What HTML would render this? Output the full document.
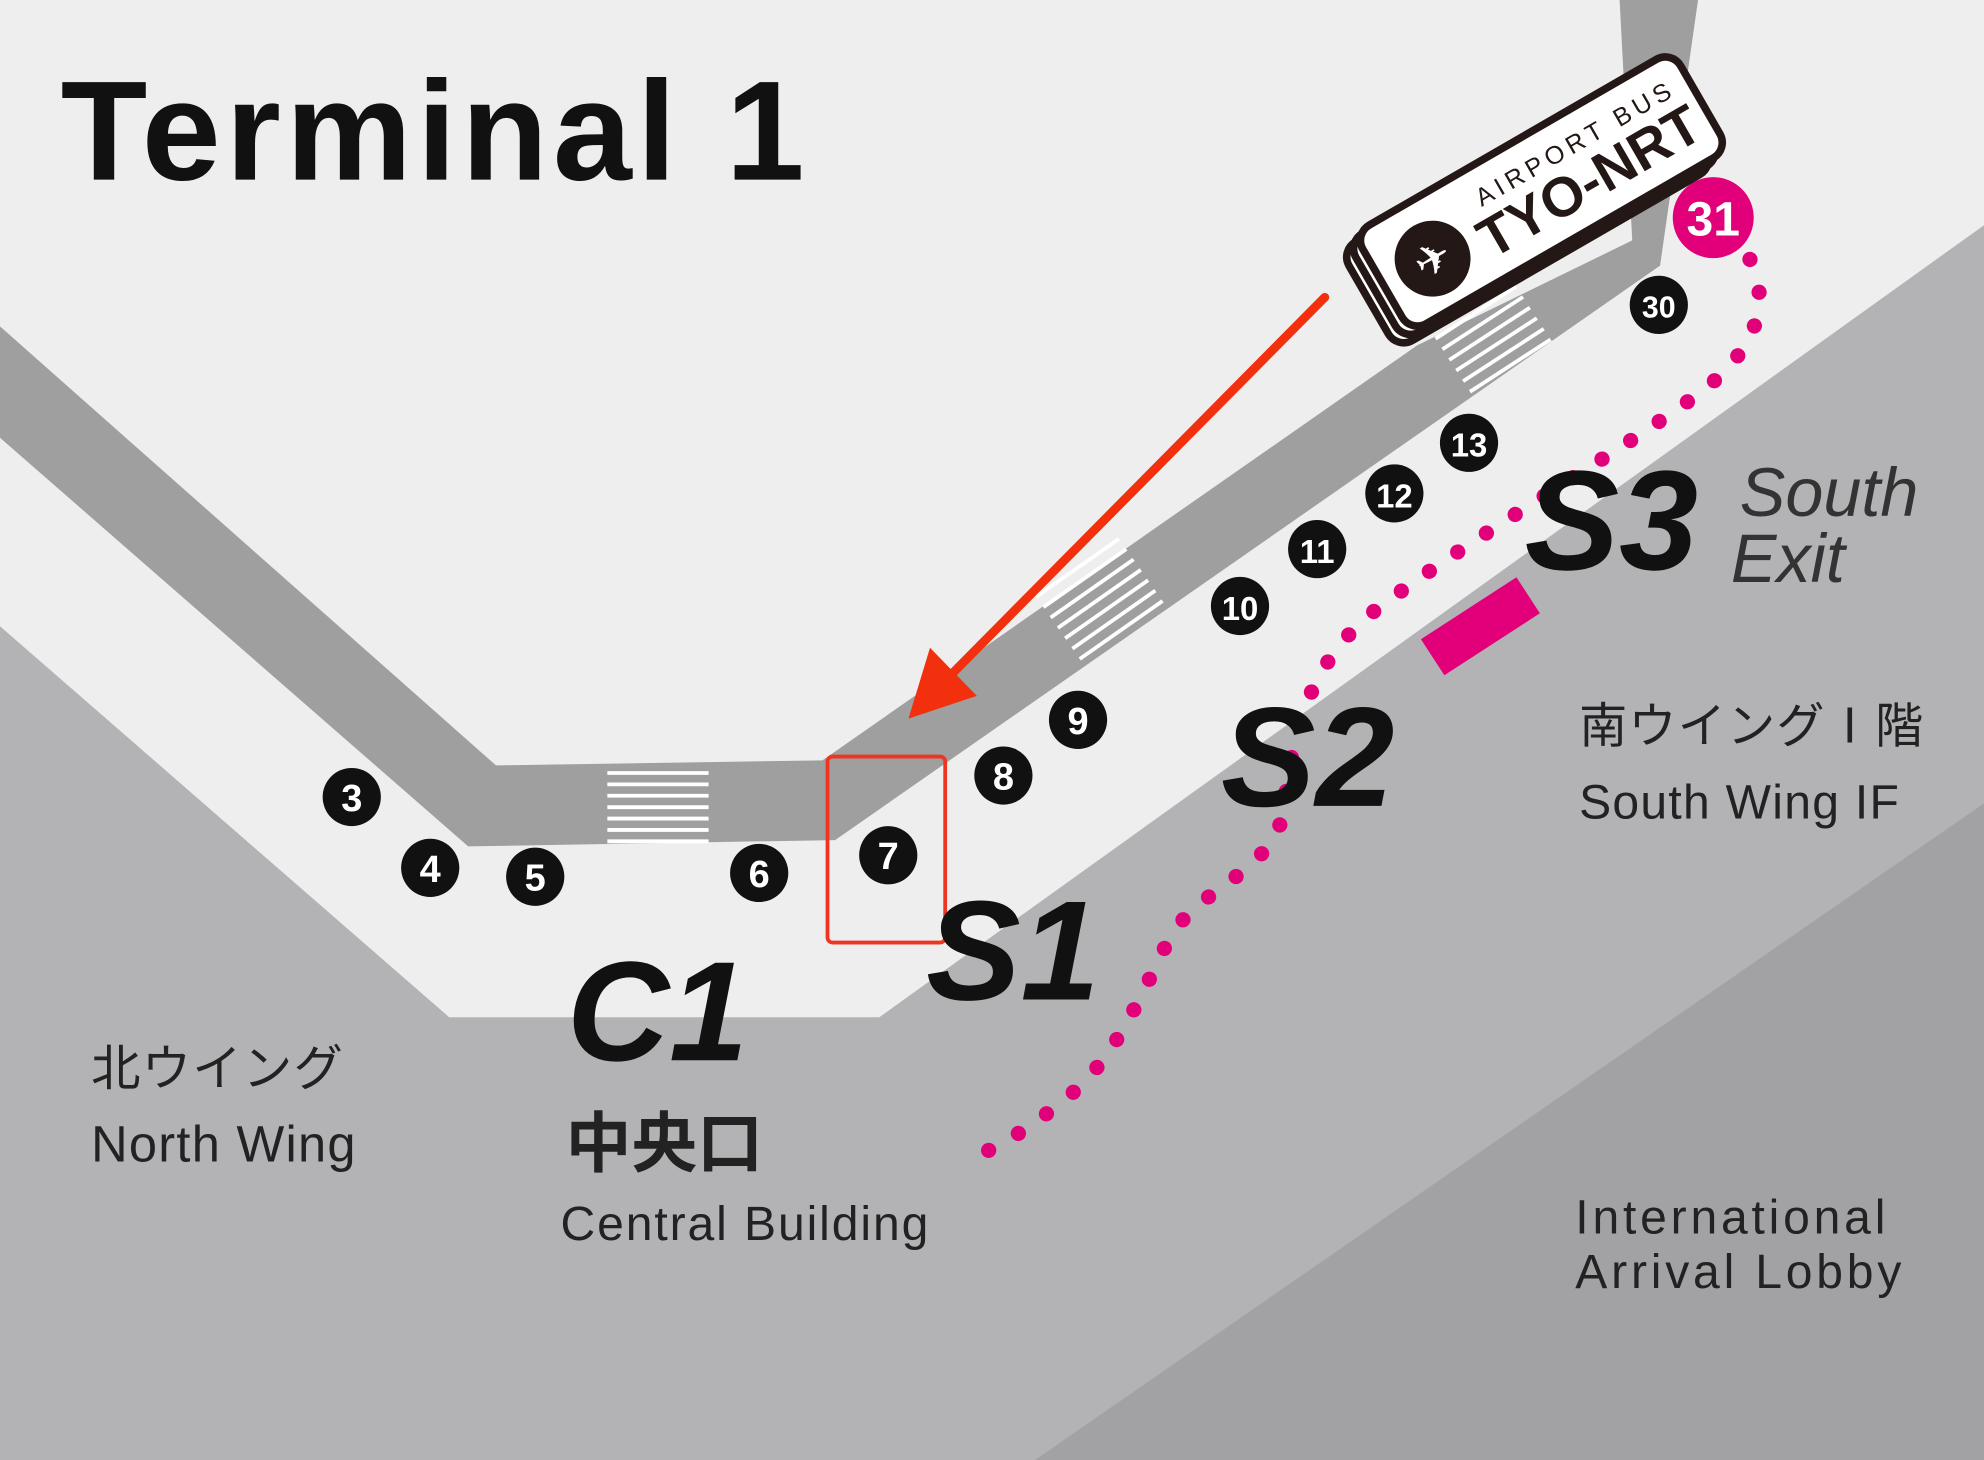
<!DOCTYPE html>
<html><head><meta charset="utf-8"><style>
html,body{margin:0;padding:0;background:#eeeeee;}
svg{display:block}
text{font-family:"Liberation Sans","Noto Sans CJK JP",sans-serif;}
</style></head><body>
<svg width="1984" height="1460" viewBox="0 0 1568 1154" preserveAspectRatio="none" xmlns="http://www.w3.org/2000/svg">
<rect width="1568" height="1154" fill="#eeeeee"/>
<polygon points="0,495 355,804 695,804 1568,178 1568,1154 0,1154" fill="#b3b3b5"/>
<polygon points="818,1154 1568,635 1568,1154" fill="#a2a2a4"/>
<!-- road -->
<polygon points="0,258 392,605 650,601 1120,273 1290,190 1280,0 1342,0 1312,210 660,664 370,669 0,346" fill="#9f9f9f"/>
<!-- crosswalks -->
<g stroke="#fff" stroke-width="3">
<line x1="480" y1="611" x2="560" y2="611"/><line x1="480" y1="620" x2="560" y2="620"/><line x1="480" y1="629" x2="560" y2="629"/><line x1="480" y1="638" x2="560" y2="638"/><line x1="480" y1="647" x2="560" y2="647"/><line x1="480" y1="656" x2="560" y2="656"/><line x1="480" y1="665" x2="560" y2="665"/>
</g>
<g stroke="#fff" stroke-width="3" transform="translate(870,475) rotate(-35)">
<line x1="-40" y1="-32" x2="40" y2="-32"/><line x1="-40" y1="-22" x2="40" y2="-22"/><line x1="-40" y1="-12" x2="40" y2="-12"/><line x1="-40" y1="-2" x2="40" y2="-2"/><line x1="-40" y1="8" x2="40" y2="8"/><line x1="-40" y1="18" x2="40" y2="18"/><line x1="-40" y1="28" x2="40" y2="28"/>
</g>
<g stroke="#fff" stroke-width="3" transform="translate(1180,268) rotate(-33)">
<line x1="-38" y1="-25" x2="38" y2="-25"/><line x1="-38" y1="-15" x2="38" y2="-15"/><line x1="-38" y1="-5" x2="38" y2="-5"/><line x1="-38" y1="5" x2="38" y2="5"/><line x1="-38" y1="15" x2="38" y2="15"/><line x1="-38" y1="25" x2="38" y2="25"/>
</g>
<!-- magenta rect -->
<rect x="-45" y="-17" width="90" height="34" fill="#e2007a" transform="translate(1170,495) rotate(-33)"/>
<!-- dotted path -->
<path d="M1383,205 C1400,240 1390,280 1330,320 C1260,370 1170,420 1090,480 C1030,525 1020,590 1015,640 C1005,690 950,700 925,740 C900,790 880,840 840,870 C810,895 790,905 768,916" fill="none" stroke="#e2007a" stroke-width="12" stroke-linecap="round" stroke-dasharray="0.1 27"/>
<!-- stops -->
<g font-weight="bold" font-size="30" text-anchor="middle" fill="#fff">
<g fill="#111"><circle cx="278" cy="630" r="23"/><circle cx="340" cy="686" r="23"/><circle cx="423" cy="693" r="23"/><circle cx="600" cy="690" r="23"/><circle cx="702" cy="676" r="23"/><circle cx="793" cy="613" r="23"/><circle cx="852" cy="569" r="23"/><circle cx="980" cy="479" r="23"/><circle cx="1041" cy="434" r="23"/><circle cx="1102" cy="390" r="23"/><circle cx="1161" cy="350" r="23"/><circle cx="1311" cy="241" r="23"/></g>
<text x="278" y="641">3</text><text x="340" y="697">4</text><text x="423" y="704">5</text><text x="600" y="701">6</text><text x="702" y="687">7</text><text x="793" y="624">8</text><text x="852" y="580">9</text>
<text x="980" y="490" font-size="26">10</text><text x="1041" y="445" font-size="26">11</text><text x="1102" y="401" font-size="26">12</text><text x="1161" y="361" font-size="26">13</text><text x="1311" y="251" font-size="24">30</text>
<circle cx="1354" cy="172" r="32" fill="#e2007a"/><text x="1354" y="186" font-size="38">31</text>
</g>
<!-- bus sign -->
<g transform="translate(1222,148) rotate(-30)">
<rect x="-150" y="-44" width="290" height="90" rx="14" fill="#fff" stroke="#231815" stroke-width="6" transform="translate(-16,6)"/>
<rect x="-150" y="-44" width="290" height="90" rx="14" fill="#fff" stroke="#231815" stroke-width="6" transform="translate(-8,3)"/>
<rect x="-150" y="-44" width="290" height="90" rx="14" fill="#fff" stroke="#231815" stroke-width="6"/>
<circle cx="-106" cy="4" r="30" fill="#231815"/>
<text x="-106" y="16" font-size="34" fill="#fff" text-anchor="middle">✈</text>
<text x="-52" y="-12" font-size="20" letter-spacing="4" fill="#231815">AIRPORT BUS</text>
<text x="-66" y="28" font-size="44" font-weight="bold" fill="#231815">TYO-NRT</text>
</g>
<!-- red arrow -->
<line x1="1047" y1="235" x2="750" y2="535" stroke="#f2300e" stroke-width="7" stroke-linecap="round"/>
<polygon points="718,568 735,512 772,550" fill="#f2300e"/>
<rect x="654" y="598" width="93" height="147" rx="4" fill="none" stroke="#ee3522" stroke-width="3"/>
<!-- labels -->
<text x="48" y="142" font-size="112" font-weight="bold" fill="#111" letter-spacing="4">Terminal 1</text>
<g font-weight="bold" font-style="italic" fill="#111" font-size="112">
<text x="1205" y="450">S3</text><text x="965" y="637">S2</text><text x="732" y="790">S1</text><text x="448" y="838">C1</text>
</g>
<g font-style="italic" fill="#333" font-size="54"><text x="1375" y="408">South</text><text x="1368" y="460">Exit</text></g>
<g fill="#222" font-size="38">
<text x="1248" y="587" letter-spacing="1">南ウイングⅠ階</text><text x="1248" y="647" letter-spacing="1">South Wing   IF</text>
<text x="72" y="858" font-size="39" letter-spacing="1">北ウイング</text><text x="72" y="918" font-size="40" letter-spacing="1">North Wing</text>
<text x="447" y="922" font-size="52" font-weight="bold">中央口</text>
<text x="443" y="980" letter-spacing="1.5">Central Building</text>
<text x="1245" y="975" letter-spacing="3">International</text><text x="1245" y="1018" letter-spacing="3">Arrival Lobby</text>
</g>
</svg>
</body></html>
